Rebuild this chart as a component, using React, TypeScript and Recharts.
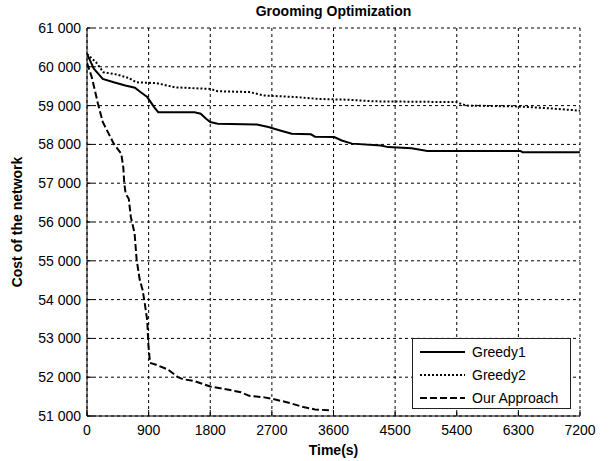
import React from "react";
import {
  CartesianGrid,
  Label,
  Legend,
  Line,
  LineChart,
  XAxis,
  YAxis,
} from "recharts";

const xTicks = [0, 900, 1800, 2700, 3600, 4500, 5400, 6300, 7200];
const yTicks = [51000, 52000, 53000, 54000, 55000, 56000, 57000, 58000, 59000, 60000, 61000];

const greedy1Time = [0, 100, 230, 390, 560, 700, 780, 880, 980, 1040, 1570, 1660, 1740, 1800, 1910, 2480, 2650, 2820, 2990, 3270, 3330, 3610, 3720, 3870, 4290, 4400, 4740, 4970, 6330, 6360, 7200];
const greedy1Cost = [60330, 59950, 59690, 59600, 59520, 59460, 59350, 59220, 58960, 58830, 58830, 58790, 58660, 58575, 58530, 58515, 58450, 58360, 58275, 58260, 58200, 58190, 58100, 58020, 57970, 57930, 57900, 57830, 57830, 57800, 57800];

const greedy2Time = [0, 130, 240, 440, 610, 720, 1010, 1290, 1800, 1910, 2370, 2590, 3050, 3390, 3840, 4180, 5390, 5540, 6270, 6670, 7200];
const greedy2Cost = [60330, 60120, 59860, 59800, 59710, 59600, 59580, 59470, 59430, 59370, 59350, 59260, 59220, 59170, 59150, 59110, 59090, 59000, 58980, 58940, 58870];

const oursTime = [0, 70, 160, 230, 390, 500, 530, 545, 565, 610, 640, 695, 725, 770, 810, 840, 880, 895, 920, 1010, 1180, 1320, 1400, 1570, 1800, 2030, 2250, 2370, 2590, 2710, 2930, 3160, 3330, 3580];
const oursCost = [60100, 59730, 59050, 58580, 58020, 57760, 57410, 56980, 56730, 56600, 56130, 55710, 55030, 54510, 54260, 53950, 53460, 52870, 52370, 52320, 52200, 52010, 51950, 51900, 51760, 51690, 51610, 51520, 51480, 51440, 51350, 51230, 51170, 51140];

const zip = (t: number[], c: number[]) => t.map((v, i) => ({ t: v, cost: c[i] }));

const series = [
  { name: "Greedy1", data: zip(greedy1Time, greedy1Cost), dash: undefined as string | undefined },
  { name: "Greedy2", data: zip(greedy2Time, greedy2Cost), dash: "2 2" },
  { name: "Our Approach", data: zip(oursTime, oursCost), dash: "7 3" },
];

const FONT = "'Liberation Sans', Arial, sans-serif";

// 61000 -> "61 000"
const fmtCost = (v: number) => String(v).replace(/(\d)(?=(\d{3})+$)/g, "$1 ");

function LegendBox() {
  return (
    <div
      style={{
        boxSizing: "border-box",
        width: 159,
        height: 71,
        border: "1px solid #222",
        background: "#fff",
        paddingTop: 1,
        fontFamily: FONT,
        fontSize: 14,
        color: "#000",
      }}
    >
      {series.map((s) => (
        <div key={s.name} style={{ display: "flex", alignItems: "center", height: 23 }}>
          <svg width={45} height={4} style={{ marginLeft: 7 }}>
            <line x1={0} y1={2} x2={45} y2={2} stroke="#000" strokeWidth={2} strokeDasharray={s.dash} />
          </svg>
          <span style={{ marginLeft: 7 }}>{s.name}</span>
        </div>
      ))}
    </div>
  );
}

export default function App() {
  return (
    <div style={{ position: "absolute", left: 0, top: 0, width: 609, height: 461, background: "#fff" }}>
      <div
        style={{
          position: "absolute",
          left: 87,
          width: 493,
          top: 3,
          textAlign: "center",
          fontFamily: FONT,
          fontWeight: "bold",
          fontSize: 14,
          lineHeight: "16px",
          color: "#000",
        }}
      >
        Grooming Optimization
      </div>
      <LineChart width={609} height={461} margin={{ top: 28, right: 29, bottom: 0, left: 0 }}>
        <CartesianGrid stroke="#000" strokeDasharray="3 3" />
        <XAxis
          type="number"
          dataKey="t"
          domain={[0, 7200]}
          ticks={xTicks}
          interval={0}
          height={45}
          allowDataOverflow
          stroke="#000"
          tickSize={-6}
          tickMargin={15}
          tick={{ fill: "#000", fontSize: 14, fontFamily: FONT }}
        >
          <Label
            value="Time(s)"
            position="insideBottom"
            offset={6}
            style={{ fontFamily: FONT, fontSize: 14, fontWeight: "bold", fill: "#000" }}
          />
        </XAxis>
        <XAxis
          xAxisId="top"
          orientation="top"
          type="number"
          domain={[0, 7200]}
          ticks={xTicks}
          height={0}
          allowDataOverflow
          stroke="#000"
          tickSize={-6}
          tick={false}
        />
        <YAxis
          type="number"
          domain={[51000, 61000]}
          ticks={yTicks}
          interval={0}
          width={87}
          allowDataOverflow
          stroke="#000"
          tickSize={-6}
          tickMargin={12}
          tickFormatter={fmtCost}
          tick={{ fill: "#000", fontSize: 14, fontFamily: FONT }}
        >
          <Label
            value="Cost of the network"
            angle={-90}
            position="insideLeft"
            offset={17}
            style={{ fontFamily: FONT, fontSize: 14, fontWeight: "bold", fill: "#000", textAnchor: "middle" }}
          />
        </YAxis>
        <YAxis
          yAxisId="right"
          orientation="right"
          type="number"
          domain={[51000, 61000]}
          ticks={yTicks}
          width={0}
          allowDataOverflow
          stroke="#000"
          tickSize={-6}
          tick={false}
        />
        {series.map((s) => (
          <Line
            key={s.name}
            data={s.data}
            dataKey="cost"
            name={s.name}
            type="linear"
            stroke="#000"
            strokeWidth={2}
            strokeDasharray={s.dash}
            dot={false}
            activeDot={false}
            isAnimationActive={false}
          />
        ))}
        <Legend
          layout="horizontal"
          verticalAlign="middle"
          align="center"
          wrapperStyle={{ left: 412, top: 338, width: 159, height: 71 }}
          content={() => <LegendBox />}
        />
      </LineChart>
    </div>
  );
}
